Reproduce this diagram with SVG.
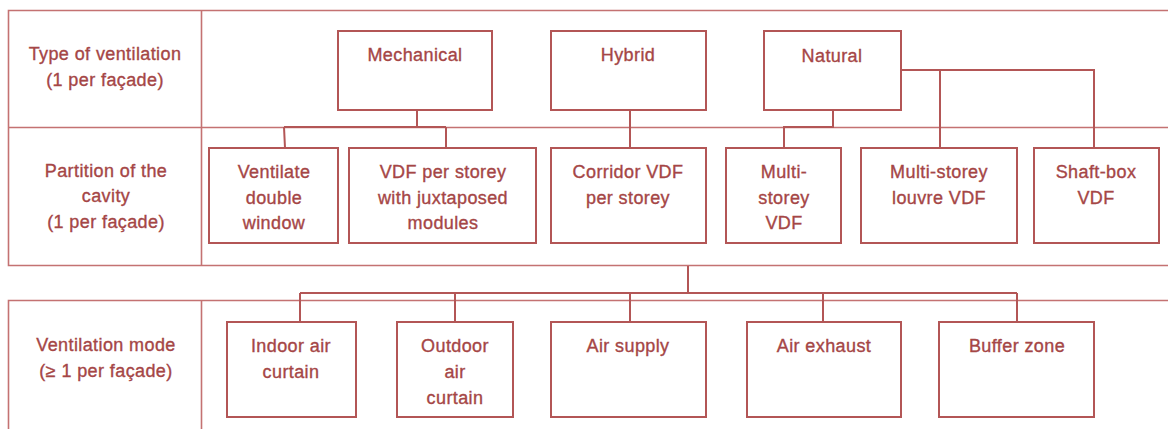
<svg xmlns="http://www.w3.org/2000/svg" width="1168" height="429" viewBox="0 0 1168 429">
<style>
.tbl{fill:none;stroke:#C47272;stroke-width:1.6}
.box{fill:#FFFFFF;stroke:#B35656;stroke-width:2}
.con{fill:none;stroke:#B35656;stroke-width:2}
text{font-family:"Liberation Sans",Arial,sans-serif;font-size:18px;fill:#A54646;stroke:#A54646;stroke-width:0.35;text-anchor:middle;letter-spacing:0.4px}
</style>
<rect width="1168" height="429" fill="#FFFFFF"/>
<g id="table">
<path class="tbl" d="M1168,10.5 H8.5 V265.5 H1168 M8.5,127.5 H1168 M201.5,10.5 V265.5"/>
<path class="tbl" d="M1168,300.5 H8.5 V429 M201.5,300.5 V429"/>
</g>
<g id="row-labels">
<g id="label-type"><text x="105" y="60">Type of ventilation</text><text x="105" y="86">(1 per façade)</text></g>
<g id="label-partition"><text x="106" y="177">Partition of the</text><text x="106" y="202">cavity</text><text x="106" y="228">(1 per façade)</text></g>
<g id="label-mode"><text x="106" y="351">Ventilation mode</text><text x="106" y="377">(≥ 1 per façade)</text></g>
</g>
<g id="connectors">
<path class="con" d="M417,110 V127 M284,127 H446 M284,127 L285,148 M446,127 V148"/>
<path class="con" d="M630,110 V148"/>
<path class="con" d="M833,110 V127 H784 V148"/>
<path class="con" d="M901,70 H1094 V148 M940,70 V148"/>
<path class="con" d="M688,266 V293 M300,293 H1017 M300,293 V322 M455,293 V322 M630,293 V322 M823,293 V322 M1017,293 V322"/>
</g>
<g id="mechanical"><rect class="box" x="338" y="31" width="154" height="79"/><text x="415" y="61">Mechanical</text></g>
<g id="hybrid"><rect class="box" x="551" y="31" width="155" height="79"/><text x="628" y="61">Hybrid</text></g>
<g id="natural"><rect class="box" x="764" y="31" width="137" height="79"/><text x="832" y="62">Natural</text></g>
<g id="ventilate-double-window"><rect class="box" x="209" y="148" width="129" height="95"/><text x="274" y="178">Ventilate</text><text x="274" y="204">double</text><text x="274" y="229">window</text></g>
<g id="vdf-per-storey"><rect class="box" x="349" y="148" width="187" height="95"/><text x="443" y="178">VDF per storey</text><text x="443" y="204">with juxtaposed</text><text x="443" y="229">modules</text></g>
<g id="corridor-vdf"><rect class="box" x="551" y="148" width="155" height="95"/><text x="628" y="178">Corridor VDF</text><text x="628" y="204">per storey</text></g>
<g id="multi-storey-vdf"><rect class="box" x="726" y="148" width="115" height="95"/><text x="784" y="178">Multi-</text><text x="784" y="204">storey</text><text x="784" y="229">VDF</text></g>
<g id="multi-storey-louvre"><rect class="box" x="861" y="148" width="156" height="95"/><text x="939" y="178">Multi-storey</text><text x="939" y="204">louvre VDF</text></g>
<g id="shaft-box"><rect class="box" x="1034" y="148" width="125" height="95"/><text x="1096" y="178">Shaft-box</text><text x="1096" y="204">VDF</text></g>
<g id="indoor-air-curtain"><rect class="box" x="227" y="322" width="129" height="95"/><text x="291" y="352">Indoor air</text><text x="291" y="378">curtain</text></g>
<g id="outdoor-air-curtain"><rect class="box" x="397" y="322" width="116" height="95"/><text x="455" y="352">Outdoor</text><text x="455" y="378">air</text><text x="455" y="404">curtain</text></g>
<g id="air-supply"><rect class="box" x="551" y="322" width="155" height="95"/><text x="628" y="352">Air supply</text></g>
<g id="air-exhaust"><rect class="box" x="747" y="322" width="154" height="95"/><text x="824" y="352">Air exhaust</text></g>
<g id="buffer-zone"><rect class="box" x="939" y="322" width="155" height="95"/><text x="1017" y="352">Buffer zone</text></g>
</svg>
